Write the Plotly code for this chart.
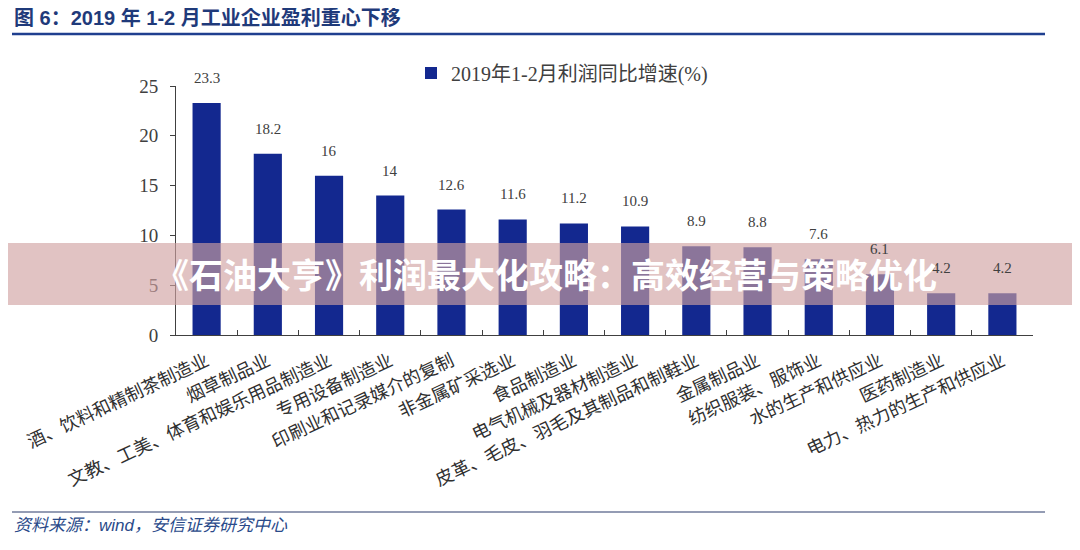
import plotly.graph_objects as go

categories = [
    "酒、饮料和精制茶制造业",
    "烟草制品业",
    "文教、工美、体育和娱乐用品制造业",
    "专用设备制造业",
    "印刷业和记录媒介的复制",
    "非金属矿采选业",
    "食品制造业",
    "电气机械及器材制造业",
    "皮革、毛皮、羽毛及其制品和制鞋业",
    "金属制品业",
    "纺织服装、服饰业",
    "水的生产和供应业",
    "医药制造业",
    "电力、热力的生产和供应业",
]
values = [23.3, 18.2, 16, 14, 12.6, 11.6, 11.2, 10.9, 8.9, 8.8, 7.6, 6.1, 4.2, 4.2]
value_labels = ["23.3", "18.2", "16", "14", "12.6", "11.6", "11.2", "10.9", "8.9", "8.8", "7.6", "6.1", "4.2", "4.2"]
series_name = "2019年1-2月利润同比增速(%)"
y_ticks = [0, 5, 10, 15, 20, 25]

title_text = "图 6：2019 年 1-2 月工业企业盈利重心下移"
source_text = "资料来源：wind，安信证券研究中心"
banner_text = "《石油大亨》利润最大化攻略：高效经营与策略优化"

# page body has an 8px margin; work in reference pixels and shift
OFF = 8
FW, FH = 1080 - OFF, 550 - OFF
L, R, T, B = 176 - OFF, 1033 - OFF, 86 - OFF, 335 - OFF
W, H = R - L, B - T


def px_x(p):
    return (p - OFF - L) / W


def px_y(p):
    return (B - (p - OFF)) / H


serif = "Liberation Serif, Noto Sans CJK SC, serif"
cjk = "Noto Sans CJK SC, sans-serif"

fig = go.Figure()
fig.add_trace(go.Bar(
    x=categories,
    y=values,
    name=series_name,
    marker=dict(color="#13288f", line=dict(width=0)),
    showlegend=True,
))

for c, v, t in zip(categories, values, value_labels):
    fig.add_annotation(
        x=c, y=v, text=t, showarrow=False,
        xanchor="center", yanchor="bottom", yshift=15,
        font=dict(family=serif, size=15, color="#404040"),
    )

fig.update_layout(
    width=FW,
    height=FH,
    margin=dict(l=L, r=FW - R, t=T, b=FH - B),
    paper_bgcolor="white",
    plot_bgcolor="white",
    bargap=0.54,
    font=dict(family=serif, color="#404040"),
    showlegend=True,
    legend=dict(
        orientation="h",
        x=px_x(562), xanchor="center",
        y=px_y(73), yanchor="middle",
        font=dict(family=serif, size=20, color="#404040"),
        bgcolor="rgba(0,0,0,0)",
        itemwidth=30,
    ),
    xaxis=dict(
        type="category",
        showline=True,
        linecolor="#404040",
        linewidth=1,
        ticks="inside",
        tickson="boundaries",
        ticklen=5,
        tickcolor="#404040",
        tickangle=-25,
        tickfont=dict(family=serif, size=18, color="#303030"),
        showgrid=False,
        ticklabelstandoff=8,
    ),
    yaxis=dict(
        range=[0, 25],
        tickvals=y_ticks,
        showline=True,
        linecolor="#404040",
        linewidth=1,
        ticks="outside",
        ticklen=5,
        tickcolor="#404040",
        tickfont=dict(family=serif, size=19, color="#404040"),
        showgrid=False,
        zeroline=False,
        ticklabelstandoff=8,
    ),
)

shapes = [
    dict(type="line", xref="paper", yref="paper",
         x0=px_x(12), x1=px_x(1045), y0=px_y(34), y1=px_y(34),
         line=dict(color="#1f3f8f", width=2.5)),
    dict(type="line", xref="paper", yref="paper",
         x0=px_x(12), x1=px_x(1045), y0=px_y(512), y1=px_y(512),
         line=dict(color="#2a3a6a", width=1.2)),
    dict(type="rect", xref="paper", yref="paper", layer="above",
         x0=px_x(0), x1=px_x(1090), y0=px_y(305), y1=px_y(243),
         fillcolor="rgba(208,161,161,0.64)", line=dict(width=0)),
]
fig.update_layout(shapes=shapes)

fig.add_annotation(
    text="<b>" + title_text + "</b>",
    xref="paper", yref="paper", x=px_x(12), y=px_y(18),
    xanchor="left", yanchor="middle", showarrow=False,
    font=dict(family="Liberation Sans, Noto Sans CJK SC, sans-serif", size=20, color="#1f3a7a"),
)
fig.add_annotation(
    text="<i>" + source_text + "</i>",
    xref="paper", yref="paper", x=px_x(12), y=px_y(525),
    xanchor="left", yanchor="middle", showarrow=False,
    font=dict(family="Liberation Sans, Noto Sans CJK SC, sans-serif", size=17, color="#2a4a8a"),
)
fig.add_annotation(
    text="<b>" + banner_text + "</b>",
    xref="paper", yref="paper", x=px_x(546), y=px_y(273),
    xanchor="center", yanchor="middle", showarrow=False,
    font=dict(family=cjk, size=34, color="white"),
)

fig.write_html("out.html")
